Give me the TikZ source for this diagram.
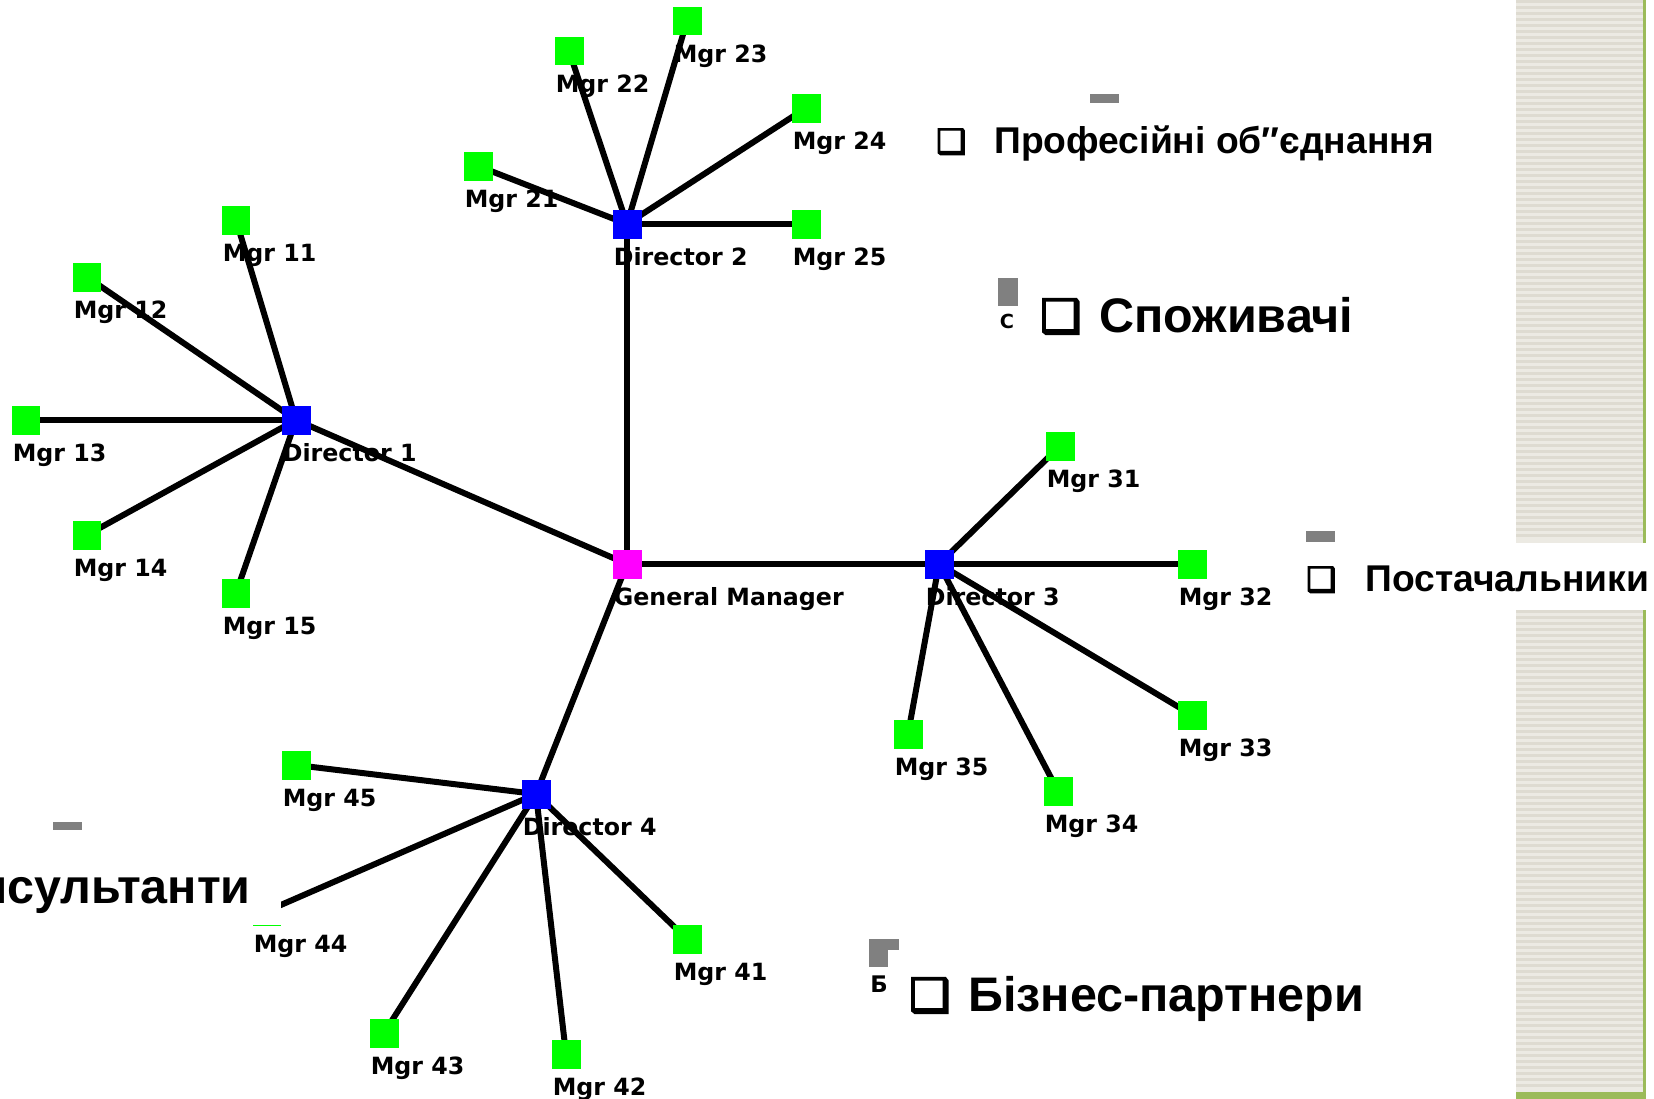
\documentclass[tikz,border=0pt]{standalone}
\usepackage{fontspec}
\setmainfont{Liberation Sans}
\newfontfamily\lblfont{DejaVu Sans}
\newfontfamily\chkfont{DejaVu Sans}[FakeBold=4]
\usetikzlibrary{positioning, backgrounds}

\definecolor{mgrgreen}{RGB}{0,255,0}
\definecolor{dirblue}{RGB}{0,0,255}
\definecolor{gmpink}{RGB}{255,0,255}
\definecolor{artgray}{RGB}{128,128,128}
\definecolor{panelbg}{RGB}{236,234,227}
\definecolor{panelln}{RGB}{222,219,209}
\definecolor{panelgreen}{RGB}{155,187,89}

\tikzset{
  sq/.style={minimum size=0.58cm, inner sep=0pt, outer sep=0pt},
  mgr/.style={sq, fill=mgrgreen},
  dir/.style={sq, fill=dirblue},
  boss/.style={sq, fill=gmpink},
  lbl/.style={anchor=north west, inner sep=0pt, font=\lblfont\bfseries\fontsize{13.5}{16}\selectfont},
  edge/.style={line width=0.12cm},
  bigtxt/.style={anchor=base west, inner sep=0pt, font=\bfseries\fontsize{27.6}{32}\selectfont},
  midtxt/.style={anchor=base west, inner sep=0pt, font=\bfseries\fontsize{21.2}{24}\selectfont},
  chkbig/.style={anchor=base west, inner sep=0pt, font=\chkfont\fontsize{26}{30}\selectfont},
  chkmid/.style={anchor=base west, inner sep=0pt, font=\chkfont\fontsize{19}{22}\selectfont},
}

\begin{document}
\begin{tikzpicture}[x=0.02cm, y=-0.02cm]
\useasboundingbox (0,0) rectangle (1654,1099);

% right panel
\fill[panelbg] (1516,0) rectangle (1643,543);
\fill[panelbg] (1516,610) rectangle (1643,1092);
\foreach \yy in {0,6,...,538} \fill[panelln] (1516,\yy) rectangle (1643,\yy+3);
\foreach \yy in {610,616,...,1088} \fill[panelln] (1516,\yy) rectangle (1643,\yy+3);
\fill[panelgreen] (1643,0) rectangle (1646,543);
\fill[panelgreen] (1643,610) rectangle (1646,1092);
\fill[panelgreen] (1516,1092) rectangle (1646,1099);

% general manager and directors
\node[boss] (gm) at (627,564) {};
\node[lbl] (gmt) at ([xshift=0.02cm, yshift=-0.18cm]gm.south west) {General Manager};
\foreach \d/\px/\py in {1/296/420, 2/627/224, 3/939/564, 4/536/794} {
  \node[dir] (d\d) at (\px,\py) {};
  \node[lbl] (d\d t) at ([xshift=0.02cm, yshift=-0.18cm]d\d.south west) {Director \d};
}

% managers
\foreach \n/\px/\py in {11/236/220, 12/87/277, 13/26/420, 14/87/535, 15/236/593,
                       21/478/166, 22/569/51, 23/687/21, 24/806/108, 25/806/224,
                       31/1060/446, 32/1192/564, 33/1192/715, 34/1058/791, 35/908/734,
                       41/687/939, 42/566/1054, 43/384/1033, 44/267/911, 45/296/765} {
  \node[mgr] (m\n) at (\px,\py) {};
  \node[lbl] (m\n t) at ([xshift=0.02cm, yshift=-0.18cm]m\n.south west) {Mgr \n};
}

% links
\begin{scope}[on background layer]
\foreach \d in {1,...,4} {
  \draw[edge] (gm.center) -- (d\d.center);
  \foreach \m in {1,...,5}
    \draw[edge] (d\d.center) -- (m\d\m.center);
}
\end{scope}

% slide text
\fill[artgray] (1090,94) rectangle (1119,103);
\node[chkmid] (pbox) at (936,153) {❑};
\node[midtxt] (prof) at (994,153) {Професійні об″єднання};

\fill[artgray] (998,278) rectangle (1018,306);
\node[font=\lblfont\bfseries\fontsize{11}{13}\selectfont, inner sep=0pt] (sc) at (1007,321) {С};
\node[chkbig] (sbox) at (1040,332) {❑};
\node[bigtxt] (spoz) at (1099,332) {Споживачі};

\fill[artgray] (1306,531) rectangle (1335,542);
\node[chkmid] (tbox) at (1306,591) {❑};
\node[midtxt] (post) at (1365,591) {Постачальники};

\fill[artgray] (869,939) rectangle (899,950);
\fill[artgray] (869,950) rectangle (888,967);
\node[font=\lblfont\bfseries\fontsize{13}{15}\selectfont, inner sep=0pt] (bb) at (879,984) {Б};
\node[chkbig] (bbox) at (909,1011) {❑};
\node[bigtxt] (biz) at (968,1011) {Бізнес-партнери};

\fill[artgray] (53,822) rectangle (82,830);
\fill[white] (-10,852) rectangle (281,925);
\node[bigtxt, anchor=base east] (kons) at (251,903) {Консультанти};
\end{tikzpicture}
\end{document}
